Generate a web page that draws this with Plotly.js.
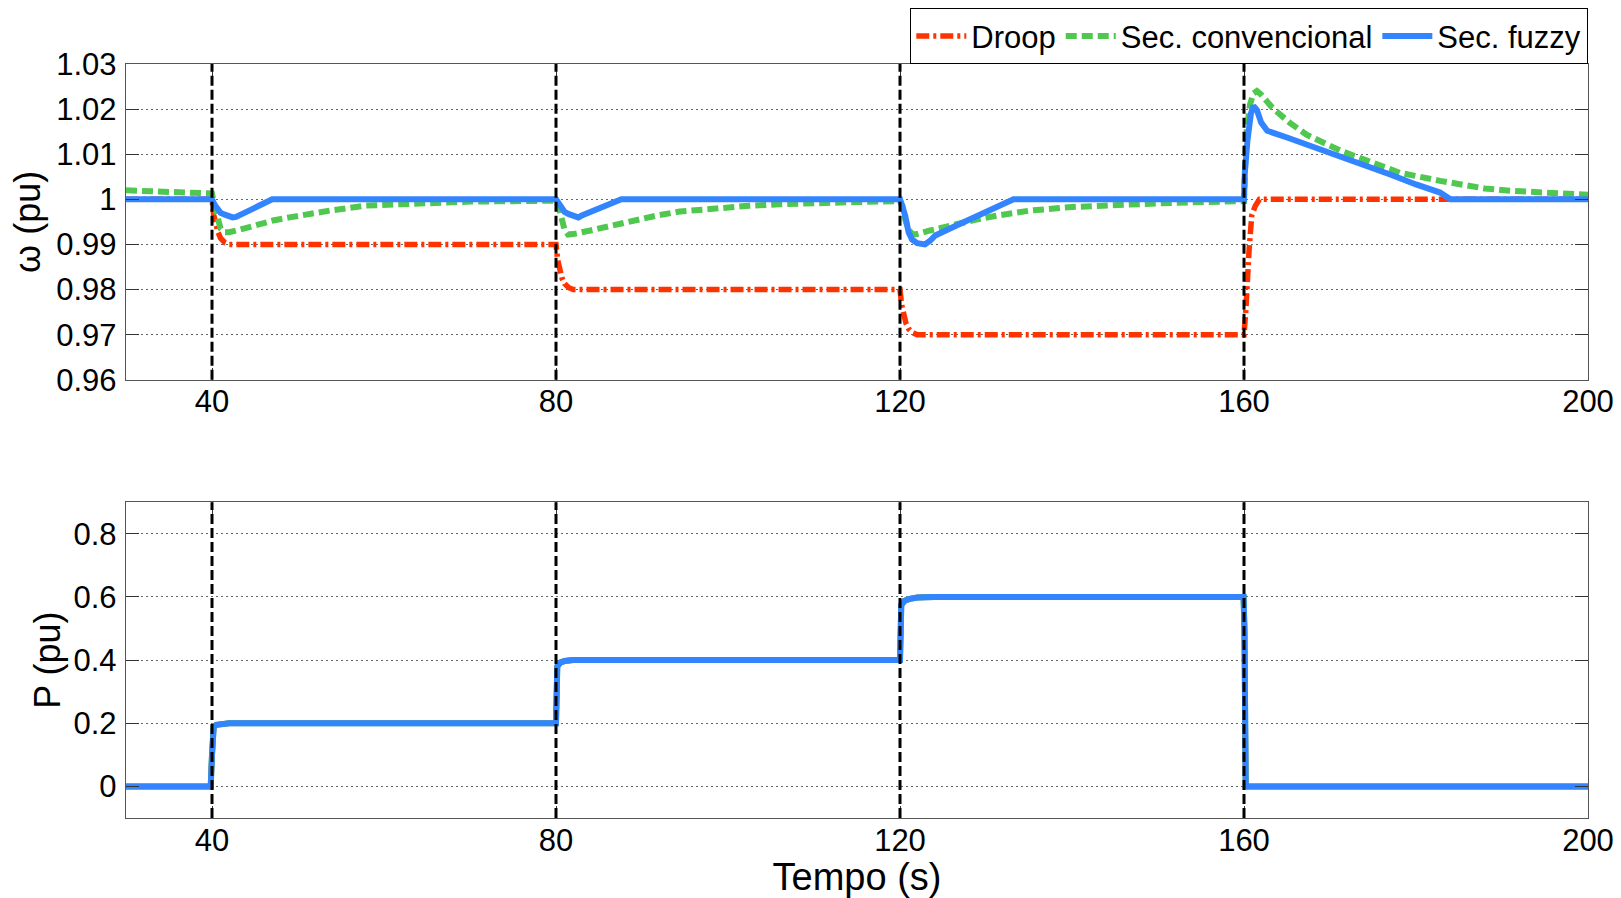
<!DOCTYPE html>
<html>
<head>
<meta charset="utf-8">
<script src="https://cdn.plot.ly/plotly-3.0.1.min.js"></script>
<style>html,body{margin:0;padding:0;background:#fff;}#chart{width:1621px;height:898px;}</style>
</head>
<body>
<div id="chart"></div>
<script>
// ---------- data ----------
const seriesNames = ['Droop', 'Sec. convencional', 'Sec. fuzzy'];
const eventTimes = [40, 80, 120, 160];

const xTickVals = [40, 80, 120, 160, 200];
const xTickText = ['40', '80', '120', '160', '200'];
const wTickVals = [0.96, 0.97, 0.98, 0.99, 1.00, 1.01, 1.02, 1.03];
const wTickText = ['0.96', '0.97', '0.98', '0.99', '1', '1.01', '1.02', '1.03'];
const pTickVals = [0, 0.2, 0.4, 0.6, 0.8];
const pTickText = ['0', '0.2', '0.4', '0.6', '0.8'];

// Frequency, droop
const tDroop = [30, 40, 40.2, 40.4, 40.7, 41, 41.5, 42,
  80, 80.2, 80.4, 80.7, 81, 81.5, 82,
  120, 120.2, 120.4, 120.7, 121, 121.5, 122,
  160, 160.2, 160.4, 160.6, 160.9, 161.3, 161.8, 200];
const wDroop = [1.000, 1.000, 0.9965, 0.9945, 0.9927, 0.9914, 0.9904, 0.9900,
  0.9900, 0.9865, 0.9842, 0.9825, 0.9813, 0.9804, 0.9800,
  0.9800, 0.9765, 0.9742, 0.9725, 0.9713, 0.9704, 0.9700,
  0.9700, 0.9750, 0.9830, 0.9890, 0.9964, 0.9985, 1.0000, 1.0000];

// Frequency, conventional secondary control
const tConv = [30, 34, 38, 40, 40.3, 40.7, 41, 41.5, 42, 43.3, 45, 47.1, 49, 51, 53.7, 57.8, 62, 66, 70, 75, 80,
  80.3, 80.7, 81, 81.4, 82, 84, 86, 87.8, 89.7, 91.7, 94.4, 98, 102, 106, 110, 115, 120,
  120.3, 120.6, 121, 121.5, 122, 123.5, 125, 127.3, 129.3, 131.3, 135.1, 140, 145, 150, 155, 160,
  160.1, 160.3, 160.7, 161.1, 161.5, 162, 163.3, 165.3, 167.3, 171.2, 174, 178.1, 182.8, 185.5, 188, 191, 194, 197, 200];
const wConv = [1.0020, 1.0017, 1.0014, 1.0013, 0.9985, 0.9950, 0.9935, 0.9927, 0.9927, 0.9933, 0.9943, 0.9953, 0.9960, 0.9967, 0.9975, 0.9986, 0.9990, 0.9993, 0.9995, 0.9996, 0.9997,
  0.9985, 0.9950, 0.9932, 0.9922, 0.9923, 0.9931, 0.9940, 0.9949, 0.9957, 0.9964, 0.9973, 0.9980, 0.9985, 0.9989, 0.9992, 0.9994, 0.9996,
  0.9985, 0.9956, 0.9932, 0.9922, 0.9923, 0.9931, 0.9938, 0.9949, 0.9957, 0.9964, 0.9975, 0.9983, 0.9988, 0.9991, 0.9994, 0.9996,
  1.0060, 1.0150, 1.0210, 1.0235, 1.0240, 1.0232, 1.0203, 1.0170, 1.0143, 1.0108, 1.0088, 1.0059, 1.0041, 1.0031, 1.0024, 1.0019, 1.0015, 1.0012, 1.0010];

// Frequency, fuzzy secondary control
const tFuzzy = [30, 40, 40.3, 40.7, 41, 41.5, 42, 42.4, 42.8, 43.5, 44.5, 45.5, 46.5, 47,
  80, 80.3, 80.7, 81, 81.5, 82, 82.6, 83, 84, 85, 86, 87, 87.6,
  120, 120.3, 120.6, 121, 121.4, 122, 122.9, 123.5, 124.1, 126, 128.5, 131, 133.2,
  160, 160.1, 160.4, 160.8, 161.1, 161.5, 162, 162.7, 165, 168, 171.2, 174, 177, 180, 182.8, 184, 200];
const wFuzzy = [1.000, 1.000, 0.9988, 0.9975, 0.9970, 0.9966, 0.9962, 0.9960, 0.9961, 0.9968, 0.9978, 0.9987, 0.9996, 1.000,
  1.000, 0.9990, 0.9978, 0.9972, 0.9967, 0.9963, 0.9960, 0.9964, 0.9972, 0.9980, 0.9988, 0.9997, 1.000,
  1.000, 0.9985, 0.9964, 0.9927, 0.9911, 0.9903, 0.9900, 0.9908, 0.9920, 0.9937, 0.9959, 0.9981, 1.000,
  1.000, 1.0060, 1.0130, 1.0190, 1.0207, 1.0198, 1.0170, 1.0152, 1.0137, 1.0117, 1.0097, 1.0077, 1.0055, 1.0033, 1.0015, 1.000, 1.000];

// Active power (all three controllers overlap)
const tP = [30, 39.85, 40, 40.2, 40.5, 41, 42, 80, 80.15, 80.5, 81, 82, 83, 120, 120.15, 120.5, 121, 122, 124, 159.95, 160.05, 160.2, 200];
const pDroop = [0, 0, 0.10, 0.19, 0.195, 0.198, 0.2, 0.2, 0.38, 0.392, 0.397, 0.4, 0.4, 0.4, 0.575, 0.587, 0.593, 0.598, 0.6, 0.6, 0.5, 0, 0];
const pConv = [0, 0, 0.10, 0.19, 0.195, 0.198, 0.2, 0.2, 0.38, 0.392, 0.397, 0.4, 0.4, 0.4, 0.575, 0.587, 0.593, 0.598, 0.6, 0.6, 0.5, 0, 0];
const pFuzzy = [0, 0, 0.10, 0.19, 0.195, 0.198, 0.2, 0.2, 0.38, 0.392, 0.397, 0.4, 0.4, 0.4, 0.575, 0.587, 0.593, 0.598, 0.6, 0.6, 0.5, 0, 0];

// ---------- styles ----------
const FONT = 'Liberation Sans, Arial, Helvetica, sans-serif';
const RED = 'rgb(255,51,0)';
const GREEN = 'rgb(80,200,80)';
const BLUE = 'rgb(51,133,255)';
const lineStyles = [
  {color: RED, width: 5.5, dash: '13px,4px,3px,4px'},
  {color: GREEN, width: 6, dash: '11px,5px'},
  {color: BLUE, width: 6, dash: 'solid'}
];

const wT = [tDroop, tConv, tFuzzy];
const wY = [wDroop, wConv, wFuzzy];
const pY = [pDroop, pConv, pFuzzy];

const traces = [];
for (let i = 0; i < 3; i++) {
  traces.push({x: wT[i], y: wY[i], type: 'scatter', mode: 'lines', name: seriesNames[i],
    line: lineStyles[i], xaxis: 'x', yaxis: 'y', legendgroup: 'g' + i, showlegend: true});
}
for (let i = 0; i < 3; i++) {
  traces.push({x: tP, y: pY[i], type: 'scatter', mode: 'lines', name: seriesNames[i],
    line: Object.assign({}, lineStyles[i], {dash: 'solid'}), xaxis: 'x2', yaxis: 'y2', legendgroup: 'g' + i, showlegend: false});
}

const shapes = [];
eventTimes.forEach(t => {
  ['', '2'].forEach(s => {
    shapes.push({type: 'line', xref: 'x' + s, yref: 'y' + s + ' domain', x0: t, x1: t, y0: 0, y1: 1,
      line: {color: '#000', width: 3, dash: '10px,4px'}, layer: 'above'});
  });
});

function xAxis(anchor, title) {
  const a = {range: [30, 200], anchor: anchor, tickmode: 'array', tickvals: xTickVals, ticktext: xTickText,
    ticks: 'inside', ticklen: 12, tickwidth: 1, tickcolor: '#333', showline: true, linecolor: '#555', linewidth: 1.3,
    mirror: 'ticks', showgrid: false, zeroline: false, tickfont: {family: FONT, size: 31, color: '#000'},
    ticklabelstandoff: -6};
  if (title) a.title = {text: title, font: {family: FONT, size: 38, color: '#000'}, standoff: 12};
  return a;
}
function yAxis(anchor, domain, range, tv, tt, title, standoff) {
  return {range: range, domain: domain, anchor: anchor, tickmode: 'array', tickvals: tv, ticktext: tt,
    ticks: 'inside', ticklen: 13, tickwidth: 1, tickcolor: '#333', showline: true, linecolor: '#555', linewidth: 1.3,
    mirror: 'ticks', showgrid: true, gridcolor: '#666', gridwidth: 1, griddash: '2px,3px', zeroline: false,
    tickfont: {family: FONT, size: 31, color: '#000'}, ticklabelstandoff: 2,
    title: {text: title, font: {family: FONT, size: 36, color: '#000'}, standoff: standoff}};
}

const layout = {
  width: 1621, height: 898,
  margin: {l: 126, r: 33, t: 61, b: 80},
  paper_bgcolor: '#fff', plot_bgcolor: '#fff',
  font: {family: FONT, color: '#000'},
  showlegend: true,
  legend: {orientation: 'h', xref: 'container', yref: 'container', x: 1588 / 1621, xanchor: 'right',
    y: 1 - 8 / 898, yanchor: 'top',
    bordercolor: '#000', borderwidth: 1.3, bgcolor: '#fff', font: {family: FONT, size: 31, color: '#000'},
    itemwidth: 50, traceorder: 'normal'},
  xaxis: xAxis('y'),
  yaxis: yAxis('x', [0.5812, 1], [0.96, 1.03], wTickVals, wTickText, 'ω (pu)', 4),
  xaxis2: xAxis('y2', 'Tempo (s)'),
  yaxis2: yAxis('x2', [0, 0.4188], [-0.1, 0.9], pTickVals, pTickText, 'P (pu)', 1),
  shapes: shapes
};

Plotly.newPlot('chart', traces, layout, {displayModeBar: false, staticPlot: true});
</script>
</body>
</html>
